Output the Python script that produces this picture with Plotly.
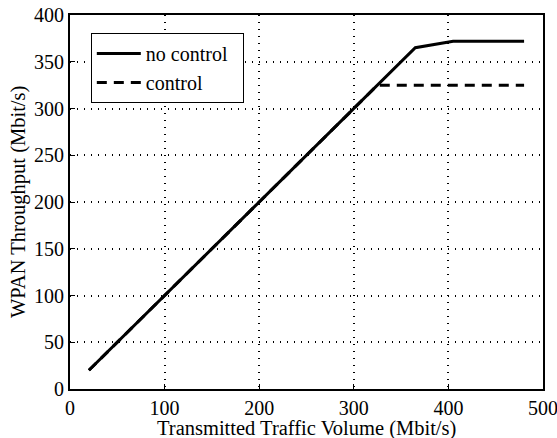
import plotly.graph_objects as go

no_control_x = [20, 365, 405, 480]
no_control_y = [20, 365, 372, 372]
control_x = [20, 325, 480]
control_y = [20, 325, 325]
x_ticks = [0, 100, 200, 300, 400, 500]
y_ticks = [0, 50, 100, 150, 200, 250, 300, 350, 400]
x_title = "Transmitted Traffic Volume (Mbit/s)"
y_title = "WPAN Throughput (Mbit/s)"
legend_names = ["no control", "control"]

font = "Times New Roman"
pad = "\u00a0\u00a0"

fig = go.Figure()
fig.add_trace(go.Scatter(x=control_x, y=control_y, mode="lines", name=legend_names[1],
                         line=dict(color="black", width=3, dash="10px,7px"), showlegend=False))
fig.add_trace(go.Scatter(x=no_control_x, y=no_control_y, mode="lines", name=legend_names[0] + pad,
                         line=dict(color="black", width=3)))
fig.add_trace(go.Scatter(x=[None], y=[None], mode="lines", name=legend_names[1] + pad,
                         line=dict(color="black", width=3, dash="10px,7px")))

axis_common = dict(showline=True, linecolor="black", linewidth=2, mirror=True,
                   ticks="inside", ticklen=5, tickcolor="black", tickwidth=1,
                   showgrid=True, gridcolor="black", griddash="1px,6px", gridwidth=1.5,
                   zeroline=False, automargin=False, ticklabeloverflow="allow",
                   tickfont=dict(family=font, size=20, color="black"))

fig.update_layout(
    template="none",
    width=557, height=438,
    margin=dict(l=70, r=14, t=15, b=49),
    paper_bgcolor="white", plot_bgcolor="white",
    font=dict(family=font, size=20, color="black"),
    xaxis=dict(range=[0, 500], tickvals=x_ticks, **axis_common),
    yaxis=dict(range=[0, 400], tickvals=y_ticks, **axis_common),
    legend=dict(x=0.044, y=0.952, xanchor="left", yanchor="top",
                bgcolor="white", bordercolor="black", borderwidth=1,
                font=dict(family=font, size=20), tracegroupgap=0, itemwidth=44),
    annotations=[
        dict(text=x_title, xref="paper", yref="paper", x=0.5, y=0, yshift=-39,
             xanchor="center", yanchor="middle", showarrow=False,
             font=dict(family=font, size=20.5, color="black")),
        dict(text=y_title, xref="paper", yref="paper", x=0, y=0.5, xshift=-52,
             xanchor="center", yanchor="middle", textangle=-90, showarrow=False,
             font=dict(family=font, size=20.5, color="black")),
    ],
)

fig.write_html("out.html", config={"displayModeBar": False},
               post_script="document.body.style.margin='0';document.body.style.overflow='hidden';")
